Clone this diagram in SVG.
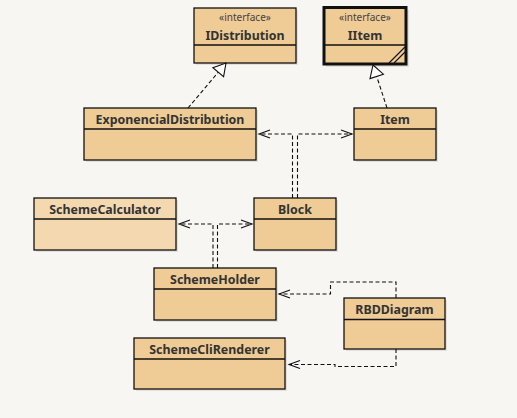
<svg xmlns="http://www.w3.org/2000/svg" width="517" height="418" viewBox="0 0 517 418">
<defs>
<style>
.bg{fill:#f7f6f2}
.box{fill:#efcb95;stroke:#111;stroke-width:1.3}
.light{fill:#f4d9b0}
.sh{fill:#c9c6bf;opacity:0.45}
.div{stroke:#111;stroke-width:1.3}
.t{font-family:"Noto Sans","Open Sans",sans-serif;font-weight:bold;font-size:12.4px;fill:#333;text-anchor:middle}
.st{font-family:"Noto Sans","Open Sans",sans-serif;font-size:10px;fill:#444;text-anchor:middle}
.c{fill:none;stroke:#111;stroke-width:1.1;stroke-dasharray:4 2.5}
.a{fill:none;stroke:#111;stroke-width:1.1}
.tri{fill:#fff;stroke:#111;stroke-width:1.1}
</style>
</defs>
<rect class="bg" x="0" y="0" width="517" height="418"/>

<g id="IDistribution">
<rect class="sh" x="196" y="10" width="102" height="55"/>
<rect class="box" x="194" y="8" width="102" height="55"/>
<line class="div" x1="194" y1="45" x2="296" y2="45"/>
<text class="st" x="245" y="21">«interface»</text>
<text class="t" x="245" y="40">IDistribution</text>
</g>

<g id="IItem">
<rect class="sh" x="326" y="10" width="83" height="57"/>
<rect class="box" x="324" y="7.5" width="82" height="56.5" style="stroke-width:3"/>
<line class="div" x1="324" y1="45" x2="406" y2="45"/>
<line class="a" x1="389" y1="63" x2="405" y2="47"/>
<line class="a" x1="394" y1="63" x2="405" y2="52"/>
<text class="st" x="365" y="21">«interface»</text>
<text class="t" x="365" y="40">IItem</text>
</g>

<g id="ExponencialDistribution">
<rect class="sh" x="86" y="110" width="172" height="52"/>
<rect class="box" x="84" y="108" width="172" height="52"/>
<line class="div" x1="84" y1="129" x2="256" y2="129"/>
<text class="t" x="170" y="124">ExponencialDistribution</text>
</g>

<g id="Item">
<rect class="sh" x="356" y="110" width="82" height="52"/>
<rect class="box" x="354" y="108" width="82" height="52"/>
<line class="div" x1="354" y1="129" x2="436" y2="129"/>
<text class="t" x="395" y="124">Item</text>
</g>

<g id="SchemeCalculator">
<rect class="sh" x="36" y="200" width="142" height="52"/>
<rect class="box light" x="34" y="198" width="142" height="52"/>
<line class="div" x1="34" y1="219" x2="176" y2="219"/>
<text class="t" x="105" y="214">SchemeCalculator</text>
</g>

<g id="Block">
<rect class="sh" x="256" y="200" width="82" height="52"/>
<rect class="box" x="254" y="198" width="82" height="52"/>
<line class="div" x1="254" y1="219" x2="336" y2="219"/>
<text class="t" x="295" y="214">Block</text>
</g>

<g id="SchemeHolder">
<rect class="sh" x="156" y="270" width="122" height="52"/>
<rect class="box" x="154" y="268" width="122" height="52"/>
<line class="div" x1="154" y1="289" x2="276" y2="289"/>
<text class="t" x="215" y="284">SchemeHolder</text>
</g>

<g id="RBDDiagram">
<rect class="sh" x="346" y="300" width="101" height="51"/>
<rect class="box" x="344" y="298" width="101" height="51"/>
<line class="div" x1="344" y1="319.5" x2="445" y2="319.5"/>
<text class="t" x="394.5" y="314">RBDDiagram</text>
</g>

<g id="SchemeCliRenderer">
<rect class="sh" x="136" y="340" width="151" height="51"/>
<rect class="box" x="134" y="338" width="151" height="51"/>
<line class="div" x1="134" y1="359" x2="285" y2="359"/>
<text class="t" x="209.5" y="354">SchemeCliRenderer</text>
</g>

<g id="connectors">
<path class="c" d="M188,108 L218.3,72.2"/>
<path class="tri" d="M226,63 L223.6,76.7 L212.9,67.7 Z"/>
<path class="c" d="M387,108 L376.7,76.4"/>
<path class="tri" d="M373,65 L383.4,74.2 L370,78.6 Z"/>
<path class="c" d="M292.5,198 V134 H259"/>
<path class="a" d="M270,130 L259,134 L270,138"/>
<path class="c" d="M297.5,198 V134 H352"/>
<path class="a" d="M341,130 L352,134 L341,138"/>
<path class="c" d="M213,268 V224 H179"/>
<path class="a" d="M190,220 L179,224 L190,228"/>
<path class="c" d="M217.5,268 V224 H252"/>
<path class="a" d="M241,220 L252,224 L241,228"/>
<path class="c" d="M396,298 V282 H330.5 V294 H279"/>
<path class="a" d="M290,290 L279,294 L290,298"/>
<path class="c" d="M396,349 V366.5 H335 V364.5 H289"/>
<path class="a" d="M300,360.5 L289,364.5 L300,368.5"/>
</g>
</svg>
